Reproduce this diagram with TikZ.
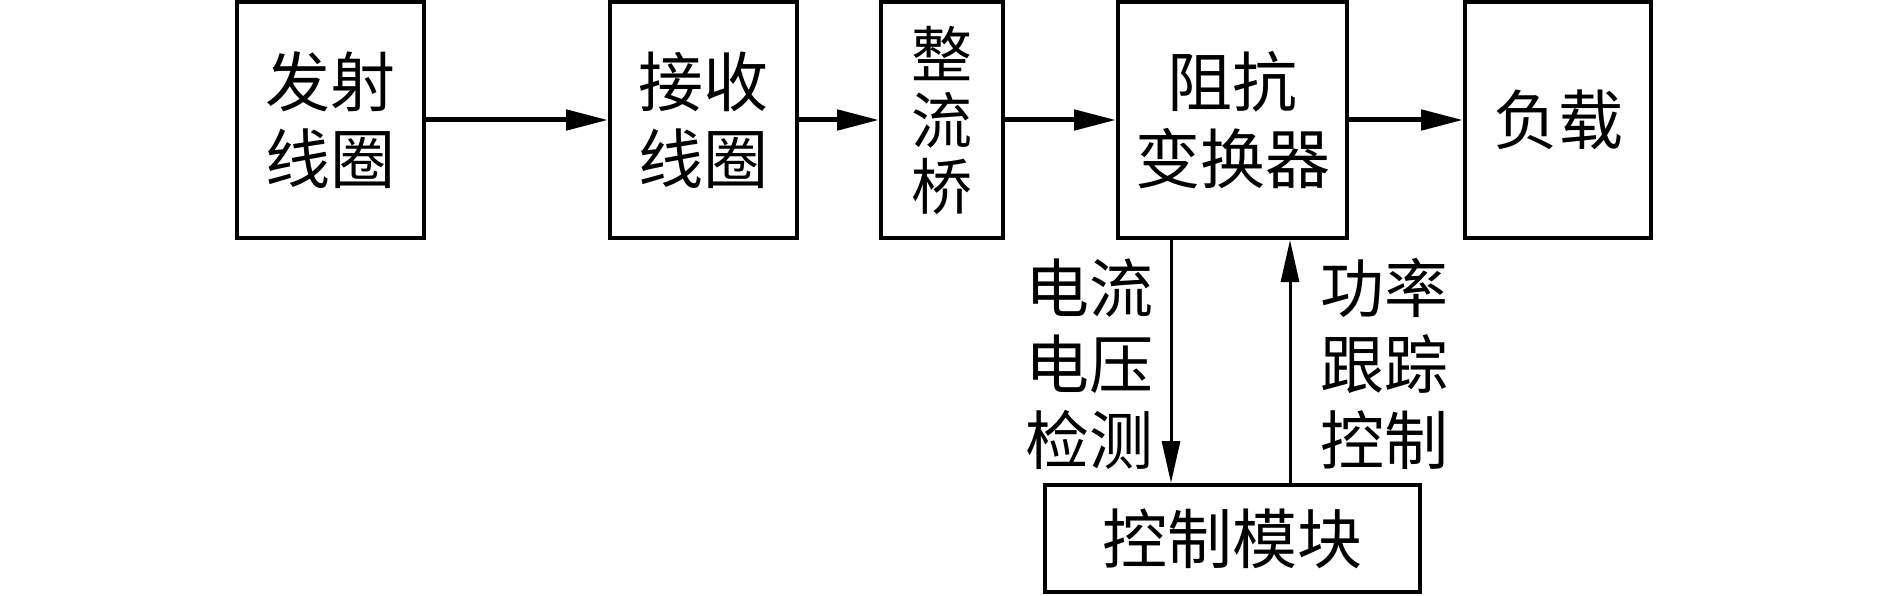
\documentclass[tikz,border=0pt]{standalone}
\usepackage{fontspec}
\newfontfamily\cjk{Noto Sans CJK SC}
\usetikzlibrary{arrows.meta}
\tikzset{
  blockbox/.style={draw=black, line width=4pt, fill=white, inner sep=0pt, align=center,
    font=\cjk\fontsize{65}{77}\selectfont},
  flowarrow/.style={line width=5pt, -{Triangle[length=42pt,width=20pt]}},
  vertarrow/.style={line width=3pt, -{Triangle[length=42pt,width=18pt]}},
  sidelabel/.style={align=center, inner sep=0pt, font=\cjk\fontsize{64}{76}\selectfont}
}
\begin{document}
\begin{tikzpicture}[x=1pt,y=-1pt]
\useasboundingbox (0,0) rectangle (1889,596);
\fill[white] (0,0) rectangle (1889,596);
\node[blockbox, minimum width=187pt, minimum height=236pt] (b1) at (330.5,120) {发射\\线圈};
\node[blockbox, minimum width=187pt, minimum height=236pt] (b2) at (703.5,120) {接收\\线圈};
\node[blockbox, minimum width=122pt, minimum height=236pt, font=\cjk\fontsize{61}{66}\selectfont] (b3) at (942,120) {整\\流\\桥};
\node[blockbox, minimum width=229pt, minimum height=236pt] (b4) at (1232.5,120) {阻抗\\变换器};
\node[blockbox, minimum width=186pt, minimum height=236pt] (b5) at (1558,120) {负载};
\node[blockbox, minimum width=375pt, minimum height=107pt] (ctrl) at (1232.5,538.5) {控制模块};
\draw[flowarrow] (b1) -- (b2);
\draw[flowarrow] (b2) -- (b3);
\draw[flowarrow] (b3) -- (b4);
\draw[flowarrow] (b4) -- (b5);
\coordinate (dx) at (1171,0);
\coordinate (ux) at (1290,0);
\draw[vertarrow] (b4.south -| dx) -- (ctrl.north -| dx);
\draw[vertarrow] (ctrl.north -| ux) -- (b4.south -| ux);
\node[sidelabel] (lab1) at (1089,364) {电流\\电压\\检测};
\node[sidelabel] (lab2) at (1384,364) {功率\\跟踪\\控制};
\end{tikzpicture}
\end{document}
